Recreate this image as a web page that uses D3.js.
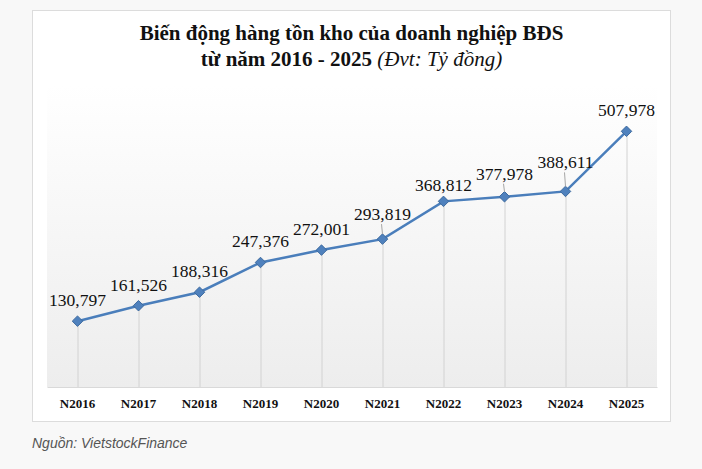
<!DOCTYPE html>
<html>
<head>
<meta charset="utf-8">
<script src="https://cdn.jsdelivr.net/npm/d3@7"></script>
<style>
  body { margin: 0; background: #f8f8f8; }
  svg { display: block; }
</style>
</head>
<body>
<div class="content"></div>
<script>
const years = ["N2016", "N2017", "N2018", "N2019", "N2020", "N2021", "N2022", "N2023", "N2024", "N2025"];
const values = [130797, 161526, 188316, 247376, 272001, 293819, 368812, 377978, 388611, 507978];
const yDomain = [0, 600000];
const titleLine1 = "Biến động hàng tồn kho của doanh nghiệp BĐS";
const titleLine2 = "từ năm 2016 - 2025 ";
const titleUnit = "(Đvt: Tỷ đồng)";
const sourceText = "Nguồn: VietstockFinance";

// label placement tweaks (px above the point), leader = draw a small connector
const labelLift = {N2021: 25, N2022: 16, N2023: 23, N2024: 29};
const leaders = ["N2021", "N2023", "N2024"];

const W = 702, H = 469;
const PLOT = {left: 47, right: 657, top: 85, bottom: 387};

const svg = d3.select(".content").append("svg").attr("width", W).attr("height", H);

const defs = svg.append("defs");
const grad = defs.append("linearGradient").attr("id", "plotbg").attr("x1", 0).attr("y1", 0).attr("x2", 0).attr("y2", 1);
grad.append("stop").attr("offset", "0%").attr("stop-color", "#ffffff");
grad.append("stop").attr("offset", "100%").attr("stop-color", "#ededed");

// card
svg.append("rect").attr("x", 32.5).attr("y", 10.5).attr("width", 638).attr("height", 411)
  .attr("fill", "#fff").attr("stroke", "#dcdcdc");

// title
const title = svg.append("text").attr("x", 351.5).attr("text-anchor", "middle")
  .style("font-family", "'Liberation Serif', serif").style("font-size", "21px").attr("fill", "#111");
title.append("tspan").attr("x", 351.5).attr("y", 40).style("font-weight", "bold").text(titleLine1);
const t2 = title.append("tspan").attr("x", 351.5).attr("y", 66);
t2.append("tspan").style("font-weight", "bold").text(titleLine2);
t2.append("tspan").style("font-style", "italic").text(titleUnit);

let x = d3.scaleBand().domain(years).range([PLOT.left, PLOT.right]);
let y = d3.scaleLinear().domain(yDomain).range([PLOT.bottom, PLOT.top]);
const cx = d => x(d) + x.bandwidth() / 2;

const data = years.map((yr, i) => ({year: yr, value: values[i]}));

// plot area
svg.append("rect").attr("x", PLOT.left).attr("y", PLOT.top)
  .attr("width", PLOT.right - PLOT.left).attr("height", PLOT.bottom - PLOT.top)
  .attr("fill", "url(#plotbg)");

// drop lines
svg.append("g").selectAll("line").data(data).join("line")
  .attr("x1", d => cx(d.year) + 0.5).attr("x2", d => cx(d.year) + 0.5)
  .attr("y1", d => y(d.value)).attr("y2", PLOT.bottom)
  .attr("stroke", "#d2d2d2").attr("stroke-width", 1);

// x axis
const xAxis = d3.axisBottom(x).tickSize(0).tickPadding(12);
const xg = svg.append("g").attr("transform", "translate(0," + PLOT.bottom + ")").call(xAxis);
xg.select(".domain").attr("stroke", "#d9d9d9");
xg.selectAll("text")
  .style("font-family", "'Liberation Serif', serif").style("font-size", "13px")
  .style("font-weight", "bold").attr("fill", "#111");

// line
const line = d3.line().x(d => cx(d.year)).y(d => y(d.value));
svg.append("path").datum(data).attr("d", line)
  .attr("fill", "none").attr("stroke", "#4a7ebb").attr("stroke-width", 2.5);

// markers
svg.append("g").selectAll("path").data(data).join("path")
  .attr("d", d3.symbol(d3.symbolDiamond2, 70))
  .attr("transform", d => "translate(" + cx(d.year) + "," + y(d.value) + ")")
  .attr("fill", "#4f81bd").attr("stroke", "#3d6a9e").attr("stroke-width", 1);

// leaders
svg.append("g").selectAll("line").data(data.filter(d => leaders.includes(d.year))).join("line")
  .attr("x1", d => cx(d.year) - 1).attr("x2", d => cx(d.year))
  .attr("y1", d => y(d.value) - (labelLift[d.year] || 21) + 10)
  .attr("y2", d => y(d.value) - 5)
  .attr("stroke", "#a6a6a6").attr("stroke-width", 1);

// value labels
const fmt = d3.format(",");
svg.append("g").selectAll("text").data(data).join("text")
  .attr("x", d => cx(d.year)).attr("y", d => y(d.value) - (labelLift[d.year] || 21) + 6)
  .attr("text-anchor", "middle")
  .style("font-family", "'Liberation Serif', serif").style("font-size", "17.5px").attr("fill", "#111")
  .text(d => fmt(d.value));

// source
svg.append("text").attr("x", 32).attr("y", 448)
  .style("font-family", "'Liberation Sans', Arial, sans-serif").style("font-size", "14px")
  .style("font-style", "italic").attr("fill", "#555").text(sourceText);
</script>
</body>
</html>
